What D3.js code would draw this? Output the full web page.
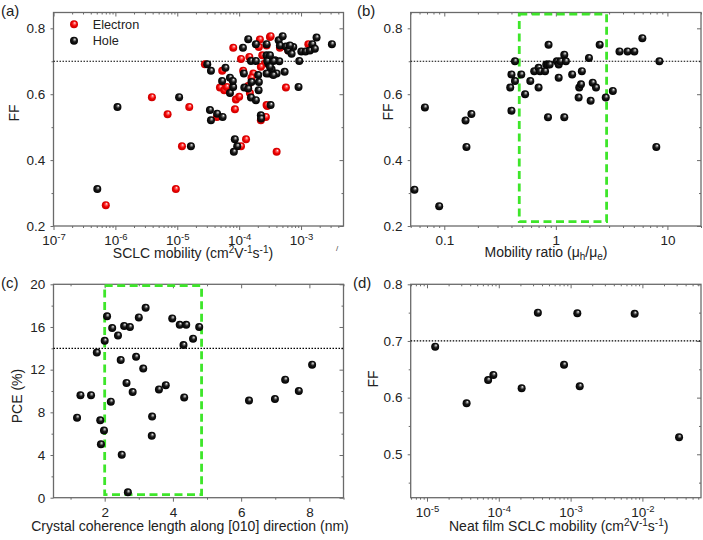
<!DOCTYPE html>
<html><head><meta charset="utf-8">
<script src="https://cdn.jsdelivr.net/npm/d3@7"></script>
<style>body{margin:0;background:#fff} text{font-family:"Liberation Sans",Arial,sans-serif}</style>
</head><body><svg id="c" width="703" height="540"></svg>
<script>
// ---------- DATA ----------
// (a) SCLC mobility (cm2/Vs) vs FF
const aElectron = [
 [7.0e-7,0.263],[3.89e-6,0.591],[6.97e-6,0.539],[9.48e-6,0.312],[1.19e-5,0.442],[1.56e-5,0.561],
 [2.79e-5,0.691],[5.32e-5,0.671],[4.89e-5,0.620],[5.74e-5,0.612],[8.53e-5,0.554],[8.02e-5,0.741],
 [8.85e-5,0.584],[1.0e-4,0.592],[1.07e-4,0.707],[1.07e-4,0.442],[1.29e-4,0.463],[1.46e-4,0.713],
 [1.49e-4,0.604],[2.16e-4,0.766],[2.08e-4,0.743],[2.36e-4,0.718],[2.77e-4,0.748],[2.61e-4,0.693],
 [3.14e-4,0.774],[2.24e-4,0.521],[2.70e-4,0.531],[2.84e-4,0.564],[4.03e-4,0.425],[5.69e-4,0.620],
 [4.55e-4,0.741],[6.21e-4,0.733],[1.31e-3,0.752],[1.69e-4,0.663],[2.24e-4,0.683],[1.16e-4,0.671],
 [1.58e-4,0.650],[1.40e-4,0.625],[4.37e-5,0.531],[6.3e-5,0.622],[2.77e-4,0.567],[3.22e-4,0.776]
];
const aHole = [
 [5.1e-7,0.312],[1.08e-6,0.561],[1.07e-5,0.591],[1.66e-5,0.442],
 [3.05e-5,0.691],[3.5e-5,0.671],[3.37e-5,0.552],[3.5e-5,0.521],[4.4e-5,0.541],[5.4e-5,0.531],
 [6.0e-5,0.680],[5.3e-5,0.640],[7.1e-5,0.650],[7.1e-5,0.604],[8.0e-5,0.622],[7.9e-5,0.640],
 [8.5e-5,0.463],[9.3e-5,0.442],[8.2e-5,0.425],
 [1.15e-4,0.741],[1.40e-4,0.767],[1.19e-4,0.663],[1.21e-4,0.620],[1.40e-4,0.617],
 [1.55e-4,0.701],[1.55e-4,0.590],[1.58e-4,0.637],[1.86e-4,0.701],[1.86e-4,0.752],[1.86e-4,0.582],
 [2.03e-4,0.658],[2.06e-4,0.612],[2.08e-4,0.637],[2.24e-4,0.536],[2.26e-4,0.526],
 [2.77e-4,0.752],[2.77e-4,0.718],[2.95e-4,0.693],[3.06e-4,0.663],[3.22e-4,0.567],
 [3.78e-4,0.703],[3.34e-4,0.676],[4.03e-4,0.663],[4.45e-4,0.700],[4.34e-4,0.764],[5.04e-4,0.776],[4.55e-4,0.748],
 [5.69e-4,0.745],[6.21e-4,0.733],[7.48e-4,0.743],[7.03e-4,0.723],[5.42e-4,0.668],
 [9.1e-4,0.622],[9.35e-4,0.701],[1.01e-3,0.730],[1.18e-3,0.730],[1.39e-3,0.733],[1.52e-3,0.752],
 [1.67e-3,0.738],[1.78e-3,0.772],[3.15e-3,0.752],
 [2.84e-4,0.701],[3.56e-4,0.701],[3.14e-4,0.683],[2.77e-4,0.663],[3.56e-4,0.658],[3.14e-4,0.718],[6.6e-4,0.748]
];
// (b) mobility ratio vs FF
const bRatio = [
 [0.054,0.31],[0.067,0.56],[0.090,0.26],[0.155,0.52],[0.175,0.54],[0.158,0.44],
 [0.40,0.66],[0.39,0.62],[0.40,0.55],[0.43,0.70],[0.43,0.64],[0.49,0.66],[0.53,0.60],
 [0.59,0.64],[0.64,0.67],[0.70,0.68],[0.70,0.62],[0.72,0.67],[0.80,0.67],[0.82,0.69],
 [0.86,0.75],[0.85,0.69],[0.85,0.53],[0.88,0.69],[1.02,0.70],[1.06,0.69],[1.06,0.65],
 [1.10,0.70],[1.19,0.72],[1.23,0.70],[1.19,0.53],[1.40,0.66],[1.60,0.59],[1.62,0.62],
 [1.68,0.63],[1.71,0.67],[1.98,0.71],[2.05,0.58],[2.14,0.635],[2.29,0.62],[2.47,0.75],
 [2.80,0.59],[3.24,0.61],[3.72,0.73],[4.39,0.73],[5.05,0.73],[5.96,0.77],[7.95,0.44],[8.47,0.70]
];
// (c) crystal coherence length (nm) vs PCE (%)
const cPCE = [
 [1.19,7.5],[1.29,9.6],[1.60,9.6],[1.77,13.6],[1.87,7.25],[1.89,5.0],[1.98,6.3],[2.0,14.7],
 [2.07,17.0],[2.18,9.0],[2.22,15.9],[2.39,15.2],[2.47,12.9],[2.50,4.03],[2.57,16.1],[2.64,10.75],
 [2.68,0.5],[2.74,16.0],[2.82,9.9],[2.92,13.2],[3.0,16.9],[3.13,12.1],[3.2,17.8],[3.38,5.8],
 [3.39,7.6],[3.59,10.15],[3.79,10.55],[3.98,16.8],[4.2,16.2],[4.39,16.2],[4.31,14.3],[4.33,9.4],
 [4.59,14.9],[4.77,16.0],[6.23,9.1],[6.99,9.25],[7.29,11.06],[7.69,10.0],[8.08,12.47]
];
// (d) neat film SCLC mobility vs FF
const dNeat = [
 [1.3e-5,0.69],[3.56e-5,0.59],[7.1e-5,0.631],[8.4e-5,0.64],[2.08e-4,0.6165],[3.5e-4,0.75],
 [8.1e-4,0.658],[1.24e-3,0.749],[1.34e-3,0.62],[7.8e-3,0.748],[3.24e-2,0.53]
];
// tick values
const aXTicks = [1e-7,1e-6,1e-5,1e-4,1e-3];
const ffTicks = [0.2,0.4,0.6,0.8];
const ffMinor = [0.3,0.5,0.7];
const bXTicks = [0.1,1,10];
const cXTicks = [2,4,6,8], cXMinor = [1,3,5,7,9];
const cYTicks = [0,4,8,12,16,20], cYMinor = [2,6,10,14,18];
const dXTicks = [1e-5,1e-4,1e-3,1e-2];
const dYTicks = [0.5,0.6,0.7,0.8], dYMinor = [0.45,0.55,0.65,0.75];
const legendLabels = ["Electron","Hole"];

// ---------- DRAW ----------
const svg = d3.select("#c");
const defs = svg.append("defs");
function grad(id, stops){
  const g = defs.append("radialGradient").attr("id",id).attr("cx","50%").attr("cy","50%").attr("r","50%").attr("fx","62%").attr("fy","30%");
  stops.forEach(s=>g.append("stop").attr("offset",s[0]).attr("stop-color",s[1]));
}
grad("gBlack",[["0%","#ffffff"],["22%","#8a8a8a"],["50%","#1a1a1a"],["100%","#000"]]);
grad("gRed",[["0%","#ffffff"],["25%","#ff6a6a"],["60%","#f00000"],["100%","#c80000"]]);

const FRAME = "#6a6a6a";
const TFS = 13.5;

function supLabel(sel, d){
  const t = d3.select(sel); t.text(null);
  t.append("tspan").text("10");
  t.append("tspan").attr("dy","-5px").attr("font-size","9.5px").text(String(Math.round(Math.log10(d))));
}

function panel(o){
  const fr = o.fr;
  const g = svg.append("g");
  const x = (o.xlog ? d3.scaleLog() : d3.scaleLinear()).domain(o.xd).range([fr.x0, fr.x1]);
  const y = d3.scaleLinear().domain(o.yd).range([fr.y1, fr.y0]);
  const xMinor = o.xlog ? x.ticks().filter(v => !o.xMajor.some(m => Math.abs(m-v)/m < 1e-6)) : o.xMinor;
  const styleAxis = a => { a.select(".domain").remove(); a.selectAll("line").attr("stroke",FRAME); a.selectAll("text").attr("font-size",TFS).attr("fill","#222").attr("font-family","Liberation Sans, Arial, sans-serif"); };
  // bottom
  const bm = g.append("g").attr("transform",`translate(0,${fr.y1})`)
    .call(d3.axisBottom(x).tickValues(o.xMajor).tickSize(4).tickPadding(5.5).tickSizeOuter(0).tickFormat(o.xlog ? (d=>d) : d3.format("d")));
  styleAxis(bm);
  if (o.xsup) bm.selectAll(".tick text").each(function(d){ supLabel(this,d); });
  if (o.xfmt) bm.selectAll(".tick text").text(d=>o.xfmt(d));
  styleAxis(g.append("g").attr("transform",`translate(0,${fr.y1})`).call(d3.axisBottom(x).tickValues(xMinor).tickSize(2).tickFormat("")));
  // top (inward)
  styleAxis(g.append("g").attr("transform",`translate(0,${fr.y0})`).call(d3.axisTop(x).tickValues(o.xMajor).tickSize(-4).tickFormat("")));
  styleAxis(g.append("g").attr("transform",`translate(0,${fr.y0})`).call(d3.axisTop(x).tickValues(xMinor).tickSize(-2).tickFormat("")));
  // left
  const lm = g.append("g").attr("transform",`translate(${fr.x0},0)`)
    .call(d3.axisLeft(y).tickValues(o.yMajor).tickSize(3).tickPadding(5.3).tickFormat(o.yfmt));
  styleAxis(lm);
  styleAxis(g.append("g").attr("transform",`translate(${fr.x0},0)`).call(d3.axisLeft(y).tickValues(o.yMinor).tickSize(2).tickFormat("")));
  // right (inward)
  styleAxis(g.append("g").attr("transform",`translate(${fr.x1},0)`).call(d3.axisRight(y).tickValues(o.yMajor).tickSize(-4).tickFormat("")));
  styleAxis(g.append("g").attr("transform",`translate(${fr.x1},0)`).call(d3.axisRight(y).tickValues(o.yMinor).tickSize(-2).tickFormat("")));
  // frame
  g.append("rect").attr("x",fr.x0).attr("y",fr.y0).attr("width",fr.x1-fr.x0).attr("height",fr.y1-fr.y0)
    .attr("fill","none").attr("stroke",FRAME).attr("stroke-width",1.3);
  // dotted reference line
  g.append("line").attr("x1",fr.x0).attr("x2",fr.x1).attr("y1",y(o.ref)).attr("y2",y(o.ref))
    .attr("stroke","#000").attr("stroke-width",1.2).attr("stroke-dasharray","1.5,1.5");
  // green box
  if (o.box) g.append("rect").attr("x",x(o.box[0])).attr("y",y(o.box[3])).attr("width",x(o.box[1])-x(o.box[0])).attr("height",y(o.box[2])-y(o.box[3]))
    .attr("fill","none").attr("stroke","#3ee62a").attr("stroke-width",2.8).attr("stroke-dasharray","8,4.5");
  // points
  o.series.forEach(s=>{
    g.append("g").selectAll("circle").data(s.data).join("circle")
      .attr("cx",d=>x(d[0])).attr("cy",d=>y(d[1])).attr("r",4).attr("fill",`url(#${s.fill})`);
  });
  // titles
  const xt = g.append("text").attr("x",o.xt[0]).attr("y",o.xt[1]).attr("text-anchor","middle").attr("font-size",14).attr("fill","#222");
  o.xtitle(xt);
  g.append("text").attr("transform",`translate(${o.yt[0]},${o.yt[1]}) rotate(-90)`).attr("text-anchor","middle")
    .attr("dy","0.35em").attr("font-size",14).attr("fill","#222").text(o.ytitle);
  g.append("text").attr("x",o.lab[0]).attr("y",o.lab[1]).attr("font-size",15).attr("fill","#222").text(o.label);
  return {g,x,y};
}

function mobTitle(t, prefix){
  t.append("tspan").text(prefix + " (cm");
  t.append("tspan").attr("dy","-5px").attr("font-size","10px").text("2");
  t.append("tspan").attr("dy","5px").text("V");
  t.append("tspan").attr("dy","-5px").attr("font-size","10px").text("-1");
  t.append("tspan").attr("dy","5px").text("s");
  t.append("tspan").attr("dy","-5px").attr("font-size","10px").text("-1");
  t.append("tspan").attr("dy","5px").text(")");
}

const fmt1 = d3.format(".1f");
const pa = panel({
  fr:{x0:53.5,x1:343.5,y0:12.5,y1:226}, xlog:true, xd:[1e-7,4.85e-3], yd:[0.2,0.848],
  xMajor:aXTicks, xsup:true, yMajor:ffTicks, yMinor:ffMinor, yfmt:fmt1, ref:0.7,
  series:[{data:aElectron,fill:"gRed"},{data:aHole,fill:"gBlack"}],
  xt:[193,258], xtitle:t=>mobTitle(t,"SCLC mobility"), yt:[14,113], ytitle:"FF", lab:[1,16], label:"(a)"
});
// legend
const leg = pa.g.append("g");
legendLabels.forEach((l,i)=>{
  leg.append("circle").attr("cx",74).attr("cy",24.3+i*16.4).attr("r",4).attr("fill",i===0?"url(#gRed)":"url(#gBlack)");
  leg.append("text").attr("x",92.7).attr("y",24.3+i*16.4).attr("dy","0.36em").attr("font-size",12.7).attr("fill","#222").text(l);
});
pa.g.append("text").attr("x",336).attr("y",251).attr("font-size",8).attr("fill","#444").text("/");

panel({
  fr:{x0:410.7,x1:701,y0:12.5,y1:226}, xlog:true, xd:[0.05,20], yd:[0.2,0.848],
  xMajor:bXTicks, xfmt:d=>String(d), yMajor:ffTicks, yMinor:ffMinor, yfmt:fmt1, ref:0.7,
  box:[0.47,2.85,0.213,0.843],
  series:[{data:bRatio,fill:"gBlack"}],
  xt:[546,257], xtitle:t=>{
    t.append("tspan").text("Mobility ratio (μ");
    t.append("tspan").attr("dy","3px").attr("font-size","10px").text("h");
    t.append("tspan").attr("dy","-3px").text("/μ");
    t.append("tspan").attr("dy","3px").attr("font-size","10px").text("e");
    t.append("tspan").attr("dy","-3px").text(")");
  }, yt:[388,112], ytitle:"FF", lab:[357,16], label:"(b)"
});

panel({
  fr:{x0:53.5,x1:343.5,y0:284.3,y1:497.7}, xlog:false, xd:[0.5,9], yd:[0,20],
  xMajor:cXTicks, xMinor:cXMinor, yMajor:cYTicks, yMinor:cYMinor, yfmt:d3.format("d"), ref:14,
  box:[2,4.84,0.28,19.87],
  series:[{data:cPCE,fill:"gBlack"}],
  xt:[190,531], xtitle:t=>t.text("Crystal coherence length along [010] direction (nm)"),
  yt:[17,396], ytitle:"PCE (%)", lab:[1,288], label:"(c)"
});

panel({
  fr:{x0:410.7,x1:701,y0:284.3,y1:497.7}, xlog:true, xd:[5.93e-6,0.0655], yd:[0.4234,0.8],
  xMajor:dXTicks, xsup:true, yMajor:dYTicks, yMinor:dYMinor, yfmt:fmt1, ref:0.7,
  series:[{data:dNeat,fill:"gBlack"}],
  xt:[558.7,531], xtitle:t=>mobTitle(t,"Neat film SCLC mobility"),
  yt:[373,379], ytitle:"FF", lab:[353,288], label:"(d)"
});
</script></body></html>
